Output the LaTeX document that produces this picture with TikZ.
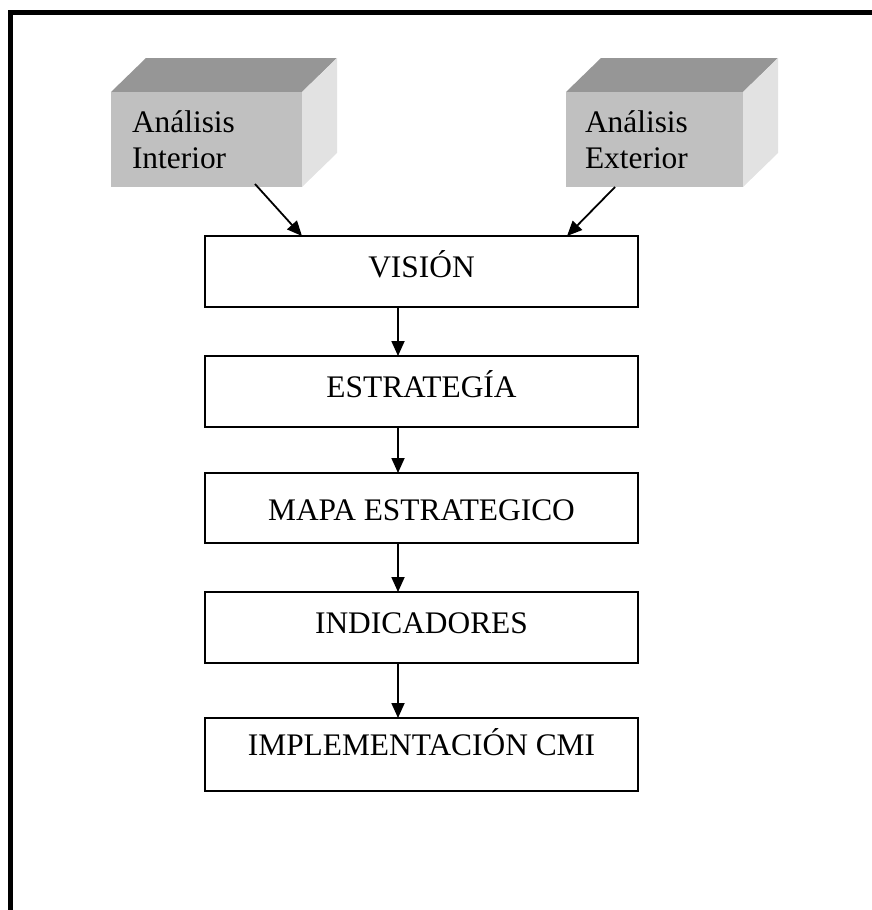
\documentclass[tikz,border=0pt]{standalone}
\usepackage{fontspec}
\setmainfont{Liberation Serif}
\usetikzlibrary{arrows.meta,calc}
\definecolor{frontgray}{HTML}{C0C0C0}
\definecolor{topgray}{HTML}{969696}
\definecolor{sidegray}{HTML}{E2E2E2}
\begin{document}
\begin{tikzpicture}[x=1pt,y=-1pt,
  every node/.style={font=\fontsize{31.4}{36}\selectfont, inner sep=0pt, outer sep=0pt},
  stepbox/.style={draw, line width=2pt, minimum width=433pt, minimum height=71pt},
  front/.style={fill=frontgray, anchor=north west, minimum height=95pt},
  lbl/.style={anchor=base},
  lblw/.style={anchor=base west},
  arr/.style={line width=1.8pt, -{Triangle[width=13pt,length=15pt]}}]
\useasboundingbox (0,0) rectangle (872,910);
% frame
\draw[line width=5pt] (10.5,910) -- (10.5,12.5) -- (872,12.5);

% 3D box left
\fill[topgray] (111,92) -- (146,58) -- (337,58) -- (302,92) -- cycle;
\fill[sidegray] (302,92) -- (337,58) -- (337,153) -- (302,187) -- cycle;
\node[front, minimum width=191pt] (ai) at (111,92) {};
\node[lblw] (ai1) at (132,132) {Análisis};
\node[lblw] (ai2) at (132,168) {Interior};

% 3D box right
\fill[topgray] (566,92) -- (601,58) -- (778,58) -- (743,92) -- cycle;
\fill[sidegray] (743,92) -- (778,58) -- (778,153) -- (743,187) -- cycle;
\node[front, minimum width=177pt] (ae) at (566,92) {};
\node[lblw] (ae1) at (585,132) {Análisis};
\node[lblw] (ae2) at (585,168) {Exterior};

% main boxes
\node[stepbox] (v) at (421.5,271.5) {};
\node[lbl] (vt) at (421.5,277) {VISIÓN};
\node[stepbox] (e) at (421.5,391.5) {};
\node[lbl] (et) at (421.5,397) {ESTRATEGÍA};
\node[stepbox, minimum height=70pt] (m) at (421.5,508) {};
\node[lbl] (mt) at (421.5,520) {MAPA ESTRATEGICO};
\node[stepbox] (ind) at (421.5,627.5) {};
\node[lbl] (indt) at (421.5,633) {INDICADORES};
\node[stepbox, minimum height=73pt] (imp) at (421.5,754.5) {};
\node[lbl] (impt) at (421.5,755) {IMPLEMENTACIÓN CMI};

% arrows
\coordinate (ax) at (398,0);
\draw[arr] ($(ai.south)+(48.5,-3)$) -- ($(v.north west)+(97,0)$);
\draw[arr] ($(ae.south)+(-39.5,0)$) -- ($(v.north west)+(362,0)$);
\draw[arr] (v.south -| ax) -- (e.north -| ax);
\draw[arr] (e.south -| ax) -- (m.north -| ax);
\draw[arr] (m.south -| ax) -- (ind.north -| ax);
\draw[arr] (ind.south -| ax) -- (imp.north -| ax);
\end{tikzpicture}
\end{document}
